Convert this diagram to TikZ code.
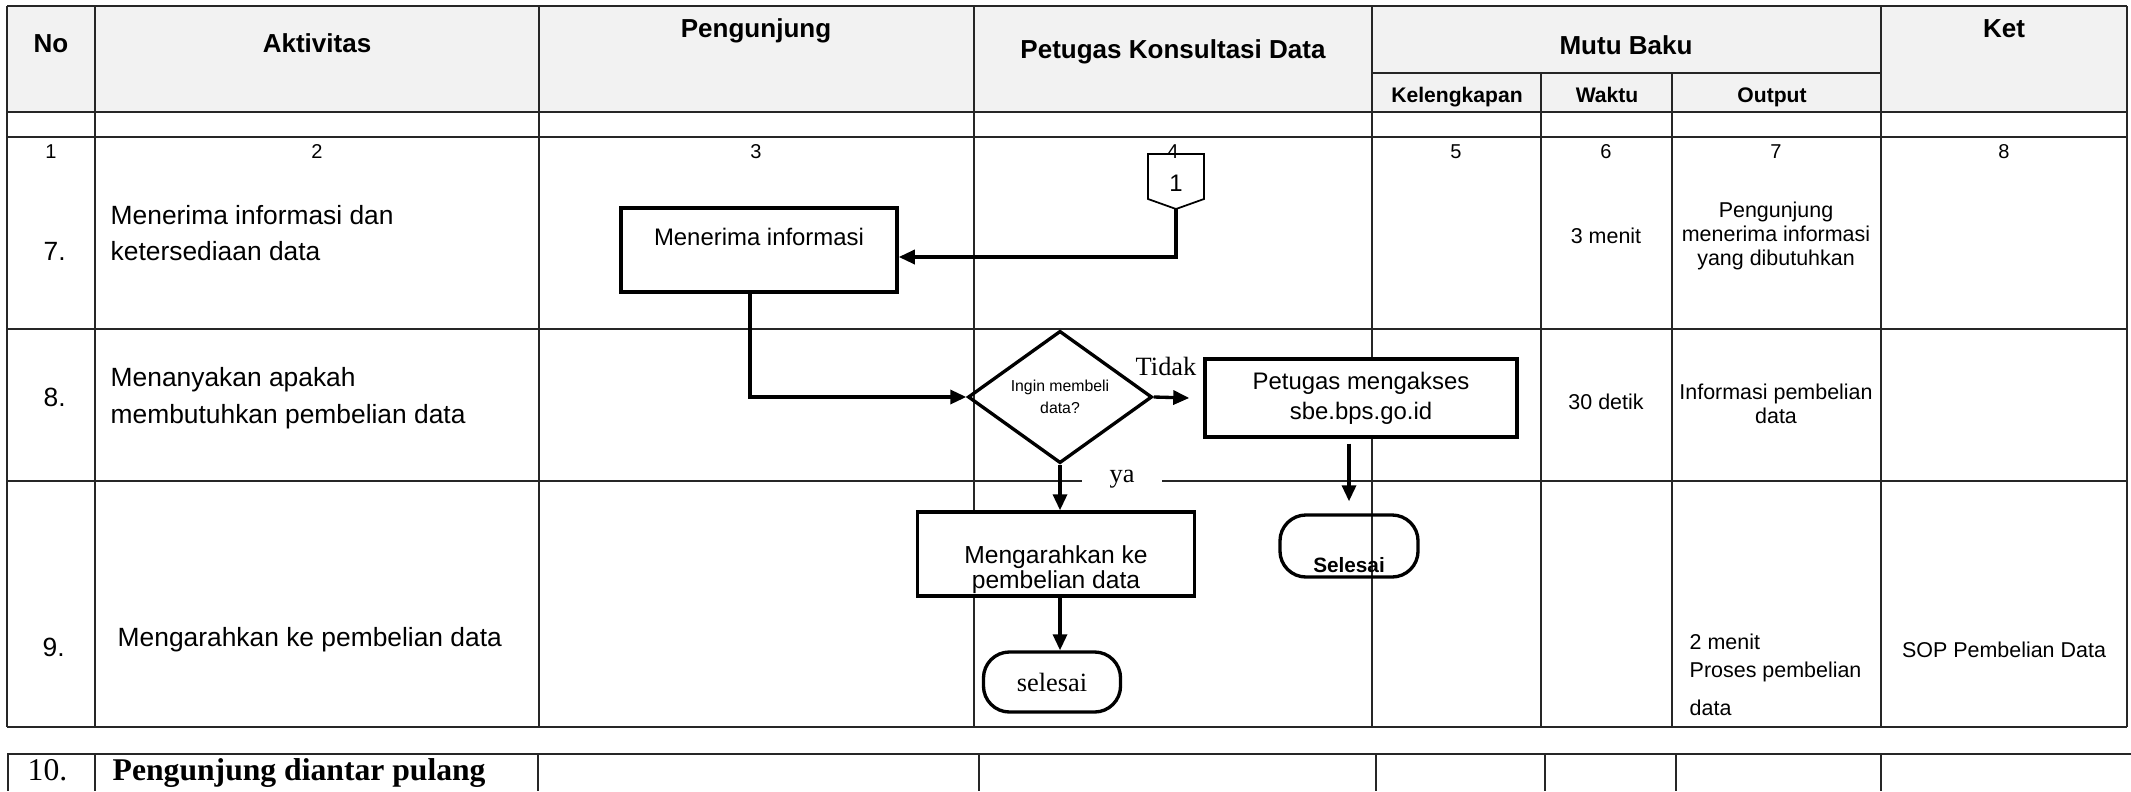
\documentclass[tikz,border=0pt]{standalone}
\usepackage{fontspec}
\setmainfont{Liberation Sans}
\newfontfamily\timesfam{Liberation Serif}
\usetikzlibrary{positioning,shapes.geometric,arrows.meta}

\begin{document}
\begin{tikzpicture}[x=0.01cm, y=-0.01cm,
    grid/.style={line width=0.45pt, draw=black!85},
    flow/.style={line width=0.95pt, -{Triangle[length=0.16cm,width=0.14cm]}},
    procbox/.style={draw, fill=white, rectangle, line width=0.95pt, inner sep=0pt},
    endbox/.style={draw, rectangle, rounded corners=0.26cm, line width=0.95pt, inner sep=0pt},
    decision/.style={draw, diamond, line width=0.95pt, inner sep=0pt, align=center, font=\fontsize{4.5}{6.3}\selectfont},
    head/.style={anchor=base, font=\bfseries\fontsize{7.4}{9}\selectfont},
    subhead/.style={anchor=base, font=\bfseries\fontsize{6}{7}\selectfont},
    colnum/.style={anchor=base, inner sep=0pt, font=\fontsize{5.7}{6}\selectfont},
    act/.style={anchor=base west, align=left, inner sep=0pt, font=\fontsize{7.5}{10.5}\selectfont},
    mutu/.style={anchor=base, align=center, inner sep=0pt, font=\fontsize{6.1}{6.7}\selectfont},
    boxtxt/.style={align=center, inner sep=0pt, font=\fontsize{6.8}{8.5}\selectfont},
    tnr/.style={anchor=base, inner sep=0pt, font=\timesfam\fontsize{7.5}{9}\selectfont},
    lastrow/.style={anchor=base west, inner sep=0pt, font=\timesfam\fontsize{9}{11}\selectfont}
]
\useasboundingbox (0,0) rectangle (2131,791);

\fill[black!5] (7,6) rectangle (2127,112);
\foreach \x in {7,95,539,974,1372,1881,2127} \draw[grid] (\x,6) -- (\x,727);
\foreach \x in {1541,1672} \draw[grid] (\x,73) -- (\x,727);
\foreach \y in {6,112,137,329,481,727} \draw[grid] (7,\y) -- (2127,\y);
\draw[grid, line width=0.65pt] (1372,73) -- (1881,73);

\draw[grid, line width=0.75pt] (7,754) -- (2131,754);
\foreach \x in {8,95,538,979,1376,1545,1676,1881} \draw[grid] (\x,754) -- (\x,791);

\node[head] (hno) at (51,53) {No};
\node[head] (hakt) at (317,53) {Aktivitas};
\node[head] (hpeng) at (756,38) {Pengunjung};
\node[head] (hpet) at (1173,59) {Petugas Konsultasi Data};
\node[head] (hmutu) at (1626,55) {Mutu Baku};
\node[head] (hket) at (2004,38) {Ket};
\node[subhead] (hkel) at (1457,103) {Kelengkapan};
\node[subhead] (hwak) at (1607,103) {Waktu};
\node[subhead] (hout) at (1772,103) {Output};

\foreach \x/\n in {51/1,317/2,756/3,1173/4,1456/5,1606/6,1776/7,2004/8}
    \node[colnum] (num\n) at (\x,159) {\n};

\node[act] (no7) at (43,260) {7.};
\node[act] (akt7) at (110,261) {Menerima informasi dan\\ketersediaan data};
\node[act] (no8) at (43,406) {8.};
\node[act] (akt8) at (110,423) {Menanyakan apakah\\membutuhkan pembelian data};
\node[act] (no9) at (42,656) {9.};
\node[act] (akt9) at (117,646) {Mengarahkan ke pembelian data};

\node[mutu] (wak7) at (1606,243) {3 menit};
\node[mutu] (out7) at (1776,265) {Pengunjung\\menerima informasi\\yang dibutuhkan};
\node[mutu] (wak8) at (1606,409) {30 detik};
\node[mutu] (out8) at (1776,423) {Informasi pembelian\\data};
\node[mutu, anchor=base west, align=left, font=\fontsize{6.1}{8}\selectfont] (out9) at (1689,715) {2 menit\\Proses pembelian\\[2.6pt]data};
\node[mutu] (ket9) at (2004,657) {SOP Pembelian Data};

\node[lastrow] (no10) at (27,780) {10.};
\node[lastrow, font=\timesfam\bfseries\fontsize{9}{11}\selectfont] (akt10) at (112,780) {Pengunjung diantar pulang};

\draw[line width=0.5pt] (1148,154) -- (1204,154) -- (1204,199) -- (1176,209) -- (1148,199) -- cycle;
\node[inner sep=0pt, font=\fontsize{6.8}{8}\selectfont] (hal1) at (1176,183) {1};
\coordinate (hal1bot) at (1176,209);

\node[procbox, minimum width=2.76cm, minimum height=0.84cm,
    label={[boxtxt, yshift=0.13cm]center:Menerima informasi}] (terima) at (759,250) {};
\node[decision, minimum width=1.84cm, minimum height=1.07cm] (tanya) at (1060,397) {Ingin membeli\\data?};
\node[procbox, boxtxt, minimum width=3.12cm, minimum height=0.78cm] (akses) at (1361,398) {Petugas mengakses\\sbe.bps.go.id};
\node[procbox, minimum width=2.77cm, minimum height=0.84cm,
    label={[boxtxt, font=\fontsize{7}{7.2}\selectfont, yshift=-0.155cm]center:Mengarahkan ke\\pembelian data}] (arah) at (1056,554) {};
\node[endbox, minimum width=1.38cm, minimum height=0.62cm,
    label={[inner sep=0pt, font=\bfseries\fontsize{5.9}{7}\selectfont, yshift=-0.195cm]center:Selesai}] (selesaiB) at (1349,546) {};
\node[endbox, minimum width=1.37cm, minimum height=0.60cm, font=\timesfam\fontsize{7.5}{9}\selectfont] (selesaiA) at (1052,682) {selesai};

\node[tnr] (tidak) at (1166,375) {Tidak};
\node[tnr, fill=white, minimum width=0.79cm, inner ysep=1pt] (ya) at (1122,482) {ya};

\draw[flow] (hal1bot) |- ([yshift=-0.07cm]terima.east);
\draw[flow] ([xshift=-0.09cm]terima.south) |- (tanya.west);
\draw[flow] (tanya.east) -- ([xshift=-0.14cm]akses.west);
\draw[flow] (tanya.south) -- (tanya.south |- arah.north);
\path (akses.south -| selesaiB.north) ++(0,5) coordinate (aksesout);
\draw[flow] (aksesout) -- ([yshift=0.12cm]selesaiB.north);
\draw[flow] (tanya.south |- arah.south) -- (tanya.south |- selesaiA.north);
\end{tikzpicture}
\end{document}
